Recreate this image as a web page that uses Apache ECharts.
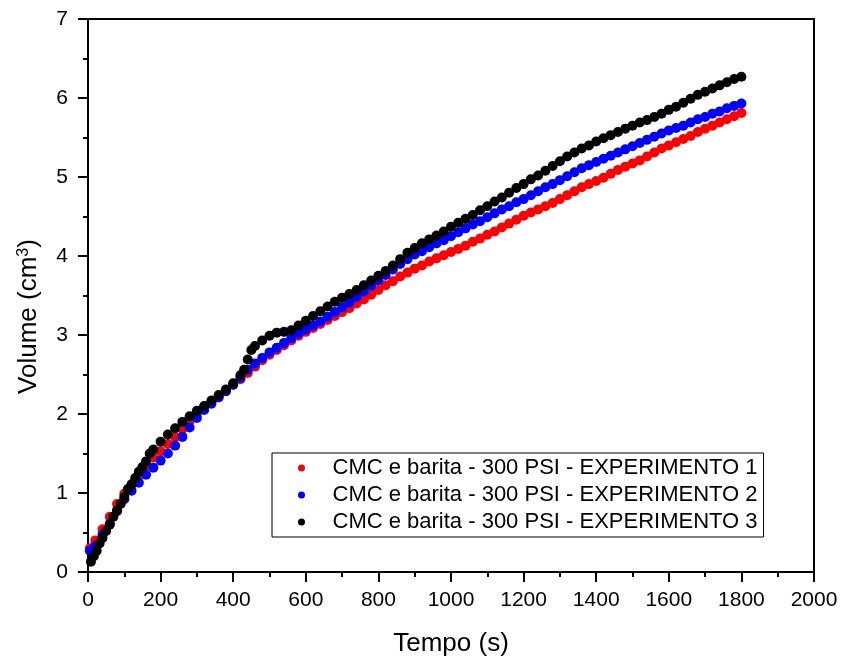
<!DOCTYPE html>
<html>
<head>
<meta charset="utf-8">
<script src="https://cdn.jsdelivr.net/npm/echarts@6/dist/echarts.min.js"></script>
<style>
  html, body { margin: 0; padding: 0; background: #fff; }
  #chart { width: 842px; height: 662px; }
</style>
</head>
<body>
<div id="chart"></div>
<script>
// Filtrate volume vs. time, three runs of CMC + barite at 300 psi
const seriesNames = [
  'CMC e barita - 300 PSI - EXPERIMENTO 1',
  'CMC e barita - 300 PSI - EXPERIMENTO 2',
  'CMC e barita - 300 PSI - EXPERIMENTO 3'
];
const seriesColors = ['#ff0000', '#0000ff', '#000000'];

// time (s) for runs 1 and 2
const tempo = [5, 20, 40, 60, 80, 100, 120, 140, 160, 180, 200, 220, 240, 260, 280, 300,
  320, 340, 360, 380, 400, 420, 440, 460, 480, 500, 520, 540, 560, 580, 600,
  620, 640, 660, 680, 700, 720, 740, 760, 780, 800, 820, 840, 860, 880, 900,
  920, 940, 960, 980, 1000, 1020, 1040, 1060, 1080, 1100, 1120, 1140, 1160, 1180, 1200,
  1220, 1240, 1260, 1280, 1300, 1320, 1340, 1360, 1380, 1400, 1420, 1440, 1460, 1480, 1500,
  1520, 1540, 1560, 1580, 1600, 1620, 1640, 1660, 1680, 1700, 1720, 1740, 1760, 1780, 1800];

// volume (cm3), run 1
const volume1 = [0.30, 0.40, 0.54, 0.70, 0.86, 0.99, 1.10, 1.22, 1.34, 1.45, 1.53, 1.62, 1.71, 1.81, 1.91, 2.00,
  2.08, 2.15, 2.22, 2.29, 2.37, 2.44, 2.52, 2.60, 2.68, 2.75, 2.81, 2.87, 2.93, 2.99, 3.04,
  3.09, 3.14, 3.19, 3.24, 3.29, 3.34, 3.40, 3.45, 3.51, 3.57, 3.63, 3.68, 3.74, 3.79, 3.84,
  3.88, 3.93, 3.97, 4.01, 4.05, 4.09, 4.13, 4.18, 4.22, 4.27, 4.31, 4.36, 4.41, 4.46, 4.51,
  4.55, 4.59, 4.63, 4.67, 4.72, 4.77, 4.82, 4.87, 4.91, 4.95, 4.99, 5.04, 5.09, 5.13, 5.17,
  5.21, 5.26, 5.31, 5.36, 5.40, 5.44, 5.48, 5.52, 5.57, 5.61, 5.65, 5.69, 5.73, 5.77, 5.81];

// volume (cm3), run 2
const volume2 = [0.27, 0.33, 0.47, 0.61, 0.77, 0.92, 1.03, 1.13, 1.23, 1.32, 1.41, 1.50, 1.60, 1.71, 1.83, 1.95,
  2.05, 2.13, 2.21, 2.29, 2.37, 2.46, 2.56, 2.64, 2.71, 2.78, 2.84, 2.90, 2.96, 3.02, 3.07,
  3.12, 3.17, 3.23, 3.29, 3.35, 3.41, 3.48, 3.55, 3.62, 3.69, 3.76, 3.83, 3.90, 3.96, 4.02,
  4.06, 4.11, 4.16, 4.20, 4.25, 4.30, 4.35, 4.40, 4.44, 4.49, 4.54, 4.59, 4.63, 4.68, 4.72,
  4.77, 4.82, 4.87, 4.91, 4.96, 5.01, 5.06, 5.11, 5.15, 5.19, 5.23, 5.27, 5.31, 5.35, 5.39,
  5.43, 5.47, 5.51, 5.55, 5.59, 5.62, 5.65, 5.69, 5.73, 5.76, 5.80, 5.83, 5.87, 5.90, 5.93];

// time (s) for run 3
const tempo3 = [8, 16, 24, 32, 40, 50, 60, 70, 80, 90, 100, 110, 120, 130, 140, 150, 160, 170, 180,
  200, 220, 240, 260, 280, 300, 320, 340, 360, 380, 400, 420, 430, 440, 450, 460, 480, 500,
  520, 540, 560, 580, 600, 620, 640, 660, 680, 700, 720, 740, 760, 780, 800, 820, 840, 860, 880, 900,
  920, 940, 960, 980, 1000, 1020, 1040, 1060, 1080, 1100, 1120, 1140, 1160, 1180, 1200,
  1220, 1240, 1260, 1280, 1300, 1320, 1340, 1360, 1380, 1400, 1420, 1440, 1460, 1480, 1500,
  1520, 1540, 1560, 1580, 1600, 1620, 1640, 1660, 1680, 1700, 1720, 1740, 1760, 1780, 1800];

// volume (cm3), run 3
const volume3 = [0.13, 0.20, 0.27, 0.36, 0.43, 0.52, 0.60, 0.70, 0.78, 0.86, 0.95, 1.05, 1.11, 1.19, 1.27, 1.33, 1.40, 1.50, 1.55,
  1.65, 1.74, 1.82, 1.90, 1.97, 2.04, 2.10, 2.17, 2.24, 2.31, 2.39, 2.49, 2.56, 2.69, 2.81, 2.86, 2.93, 2.99,
  3.03, 3.04, 3.06, 3.12, 3.18, 3.24, 3.30, 3.36, 3.42, 3.47, 3.52, 3.57, 3.63, 3.69, 3.75, 3.81, 3.88, 3.96, 4.04, 4.10,
  4.16, 4.21, 4.26, 4.31, 4.37, 4.42, 4.47, 4.52, 4.58, 4.63, 4.69, 4.74, 4.80, 4.86, 4.91,
  4.97, 5.02, 5.08, 5.14, 5.20, 5.26, 5.31, 5.36, 5.40, 5.45, 5.49, 5.53, 5.57, 5.61, 5.65,
  5.69, 5.72, 5.76, 5.80, 5.85, 5.89, 5.94, 5.99, 6.04, 6.08, 6.12, 6.16, 6.20, 6.24, 6.27];

const xTitle = 'Tempo (s)';
const yTitle = 'Volume (cm{sup|3})';

const FONT = 'Liberation Sans, Arial, sans-serif';

function pairs(xs, ys) {
  return xs.map((x, i) => [x, ys[i]]);
}

const runs = [pairs(tempo, volume1), pairs(tempo, volume2), pairs(tempo3, volume3)];

const chart = echarts.init(document.getElementById('chart'), null, { renderer: 'canvas' });

const axisCommon = {
  axisLine: { show: true, onZero: false, lineStyle: { color: '#000', width: 2 } },
  axisTick: { show: true, inside: false, length: 10, lineStyle: { color: '#000', width: 2 } },
  minorTick: { show: true, splitNumber: 2, length: 5, lineStyle: { color: '#000', width: 2 } },
  splitLine: { show: false },
  axisLabel: { color: '#000', fontFamily: FONT, fontSize: 21, formatter: v => String(v) }
};

chart.setOption({
  backgroundColor: '#ffffff',
  animation: false,
  grid: {
    left: 88, right: 28, top: 19, bottom: 89,
    show: true, borderColor: '#000', borderWidth: 2, backgroundColor: 'transparent'
  },
  legend: {
    orient: 'vertical',
    left: 272,
    top: 453,
    padding: [3, 6, 3, 26],
    itemGap: 3,
    itemWidth: 52,
    itemHeight: 7,
    borderColor: '#000',
    borderWidth: 1,
    selectedMode: false,
    textStyle: { color: '#000', fontFamily: FONT, fontSize: 22, lineHeight: 24 },
    data: seriesNames.map(n => ({ name: n, icon: 'circle' }))
  },
  xAxis: Object.assign({}, axisCommon, {
    type: 'value',
    min: 0, max: 2000, interval: 200,
    name: xTitle,
    nameLocation: 'middle',
    nameGap: 59,
    nameTextStyle: { color: '#000', fontFamily: FONT, fontSize: 26 },
    axisLabel: Object.assign({}, axisCommon.axisLabel, { margin: 18 })
  }),
  yAxis: Object.assign({}, axisCommon, {
    type: 'value',
    min: 0, max: 7, interval: 1,
    name: yTitle,
    nameLocation: 'middle',
    nameRotate: 90,
    nameGap: 46,
    nameTextStyle: {
      color: '#000', fontFamily: FONT, fontSize: 26,
      padding: [0, 42, 0, 0],
      rich: { sup: { fontSize: 16, verticalAlign: 'top', padding: [0, 0, 10, 0], fontFamily: FONT, color: '#000' } }
    },
    axisLabel: Object.assign({}, axisCommon.axisLabel, { margin: 20 })
  }),
  series: runs.map((data, i) => ({
    name: seriesNames[i],
    type: 'scatter',
    data: data,
    symbol: 'circle',
    symbolSize: 10,
    itemStyle: { color: seriesColors[i], opacity: 1 },
    emphasis: { disabled: true },
    z: 2 + i
  }))
});
</script>
</body>
</html>
